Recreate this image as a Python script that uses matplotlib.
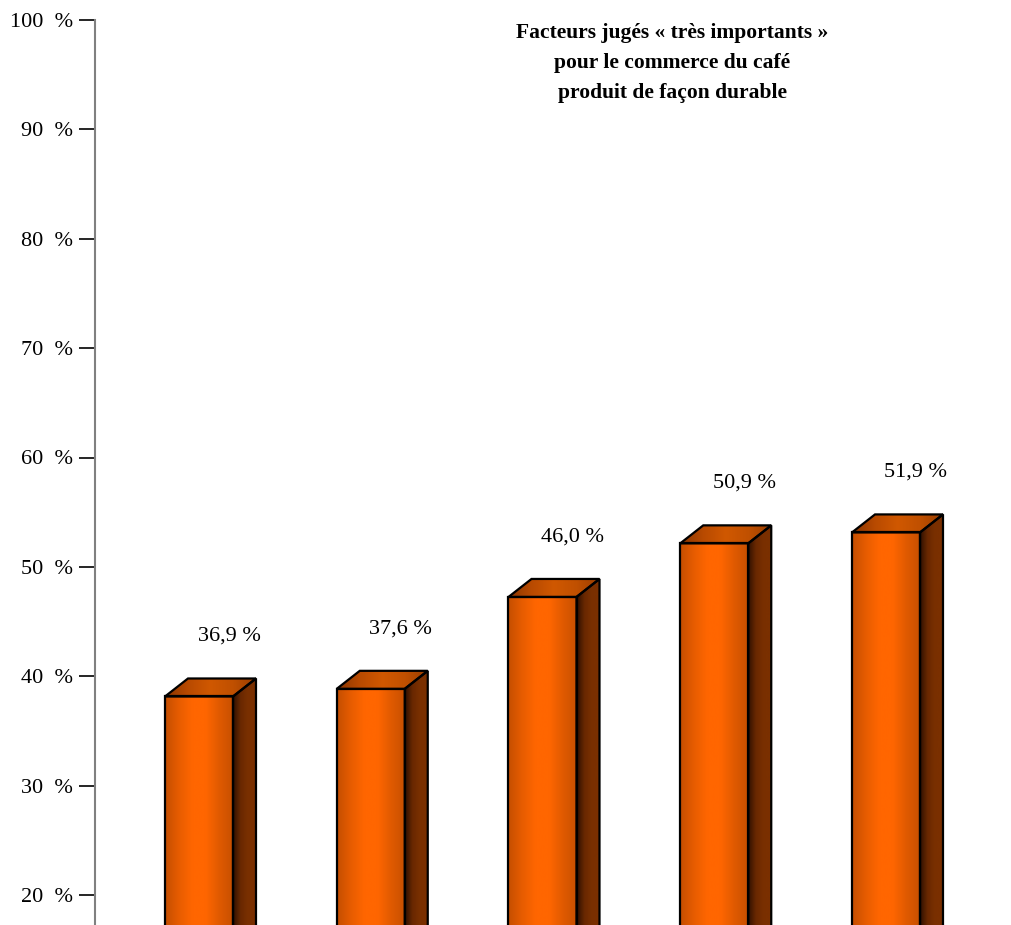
import matplotlib
matplotlib.use("Agg")
import matplotlib.pyplot as plt
import numpy as np
from matplotlib.patches import Polygon
from matplotlib.colors import LinearSegmentedColormap

# ---- data ----
categories = ["Facteur 1", "Facteur 2", "Facteur 3", "Facteur 4", "Facteur 5"]
values = [36.9, 37.6, 46.0, 50.9, 51.9]
value_labels = ["36,9 %", "37,6 %", "46,0 %", "50,9 %", "51,9 %"]
yticks = [20, 30, 40, 50, 60, 70, 80, 90, 100]
ytick_labels = ["20  %", "30  %", "40  %", "50  %", "60  %", "70  %", "80  %", "90  %", "100  %"]
title_lines = ["Facteurs jugés « très importants »",
               "pour le commerce du café",
               "produit de façon durable"]

W, H, DPI = 1012, 925, 100
fig = plt.figure(figsize=(W / DPI, H / DPI), dpi=DPI)
plt.rcParams['font.family'] = ['Liberation Serif', 'DejaVu Serif']

ax_left_px = 95
px_per_unit = 875 / 80.0
ymin = 20 - (925 - 895) / px_per_unit
ymax = 100 + 20 / px_per_unit
ax = fig.add_axes([ax_left_px / W, 0, 1 - ax_left_px / W, 1])
unit_px = 171.75
xmin = -(199 - ax_left_px) / unit_px
xmax = xmin + (W - ax_left_px) / unit_px
ax.set_xlim(xmin, xmax)
ax.set_ylim(ymin, ymax)

# 3D style parameters
bw = 68 / unit_px
dx = 23 / unit_px
dy = 18 / px_per_unit
proj = 1.25  # projection shift of the front face
label_gap = 5.5

front_cmap = LinearSegmentedColormap.from_list(
    "front", ["#C44E00", "#E65C00", "#FF6600", "#FF6600", "#E05A00", "#C85000"])
side_cmap = LinearSegmentedColormap.from_list(
    "side", ["#2E1000", "#6A2800", "#7A3000", "#7A3000"])
top_cmap = LinearSegmentedColormap.from_list(
    "top", ["#8A3500", "#B84A00", "#D05800", "#C05000", "#9A3E00"])

grad = np.linspace(0, 1, 256).reshape(1, -1)
xs = np.arange(len(values))
for i, v in zip(xs, values):
    xl = i - bw / 2
    xr = i + bw / 2
    yt = v + proj
    yb = ymin - 2
    front = Polygon([(xl, yb), (xl, yt), (xr, yt), (xr, yb)], closed=True,
                    facecolor="none", edgecolor="black", lw=1.6, zorder=4)
    side = Polygon([(xr, yb), (xr, yt), (xr + dx, yt + dy), (xr + dx, yb + dy)],
                   closed=True, facecolor="none", edgecolor="black", lw=1.6, zorder=4)
    top = Polygon([(xl, yt), (xl + dx, yt + dy), (xr + dx, yt + dy), (xr, yt)],
                  closed=True, facecolor="none", edgecolor="black", lw=1.6, zorder=4)
    for poly, cmap, ext in [
        (front, front_cmap, (xl, xr, yb, yt)),
        (side, side_cmap, (xr, xr + dx, yb, yt + dy)),
        (top, top_cmap, (xl, xr + dx, yt, yt + dy)),
    ]:
        ax.add_patch(poly)
        im = ax.imshow(grad, cmap=cmap, extent=ext, aspect="auto",
                       interpolation="bicubic", zorder=3)
        im.set_clip_path(poly)
    ax.text(i + 30 / unit_px, yt + label_gap, value_labels[i], ha="center",
            va="center", fontsize=16, zorder=5)

ax.set_xlim(xmin, xmax)
ax.set_ylim(ymin, ymax)
ax.set_xticks([])
ax.set_yticks(yticks)
ax.set_yticklabels(ytick_labels, fontsize=16)
ax.tick_params(axis="y", direction="out", length=11.5, width=1.2, color="black", pad=4.3)
for s in ["top", "right", "bottom"]:
    ax.spines[s].set_visible(False)
ax.spines["left"].set_color("#808080")
ax.spines["left"].set_linewidth(1.5)
ax.spines["left"].set_bounds(ymin, 100)
ax.patch.set_alpha(0)

for k, line in enumerate(title_lines):
    fig.text(672 / W, 1 - (33 + 30 * k) / H, line, ha="center", va="center",
             fontsize=15.5, fontweight="bold")

fig.savefig("out.png", dpi=DPI)
